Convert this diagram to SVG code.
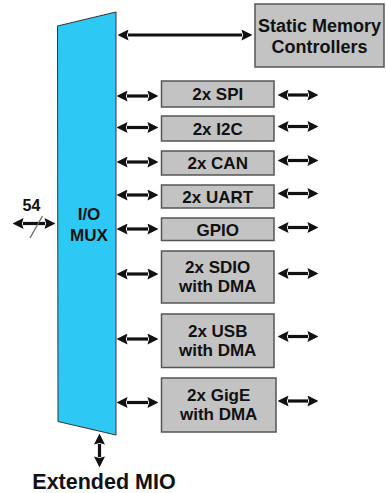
<svg xmlns="http://www.w3.org/2000/svg" width="386" height="493" viewBox="0 0 386 493">
<style>
.box{fill:#c3c3c3;stroke:#555;stroke-width:1.5}
.lbl{font-family:"Liberation Sans",Arial,sans-serif;font-weight:bold;font-size:17px;fill:#111;text-anchor:middle}
.big{font-size:18px}
.ar{stroke:#111;stroke-width:3.2;fill:none;marker-start:url(#ah);marker-end:url(#ah)}
</style>
<defs>
<marker id="ah" markerUnits="userSpaceOnUse" markerWidth="11" markerHeight="11" viewBox="0 0 10 10" refX="0.5" refY="5" orient="auto-start-reverse">
<path d="M0,0 L10,5 L0,10 L1.5,5 z" fill="#111"/>
</marker>
</defs>
<rect width="386" height="493" fill="#fff"/>
<g id="mux">
<polygon points="57.5,26 116,12 116,435 58,421.5" fill="#2ec8f5" stroke="#333" stroke-width="1"/>
<text class="lbl" x="89" y="220">I/O</text>
<text class="lbl" x="89" y="240.5">MUX</text>
</g>
<g id="static-memory">
<rect class="box" x="255" y="4" width="129" height="63"/>
<text class="lbl big" x="319.5" y="31.5">Static Memory</text>
<text class="lbl big" x="319.5" y="53">Controllers</text>
</g>
<g id="spi"><rect class="box" x="161.5" y="81" width="112.5" height="26"/><text class="lbl" x="217.7" y="100">2x SPI</text></g>
<g id="i2c"><rect class="box" x="161.5" y="116" width="112.5" height="25"/><text class="lbl" x="217.7" y="134.5">2x I2C</text></g>
<g id="can"><rect class="box" x="161.5" y="151" width="112.5" height="24"/><text class="lbl" x="217.7" y="169">2x CAN</text></g>
<g id="uart"><rect class="box" x="161.5" y="185" width="112.5" height="23"/><text class="lbl" x="217.7" y="202.5">2x UART</text></g>
<g id="gpio"><rect class="box" x="161.5" y="218" width="112.5" height="22.5"/><text class="lbl" x="217.7" y="235.5">GPIO</text></g>
<g id="sdio"><rect class="box" x="161.5" y="251" width="112.5" height="52"/><text class="lbl" x="217.7" y="273.3">2x SDIO</text><text class="lbl" x="217.7" y="291.7">with DMA</text></g>
<g id="usb"><rect class="box" x="161.5" y="314" width="112.5" height="53.5"/><text class="lbl" x="217.7" y="337">2x USB</text><text class="lbl" x="217.7" y="355.5">with DMA</text></g>
<g id="gige"><rect class="box" x="161.5" y="378" width="114.5" height="54"/><text class="lbl" x="218.7" y="401">2x GigE</text><text class="lbl" x="218.7" y="419.5">with DMA</text></g>
<g id="ext-label"><text class="lbl" x="104" y="489" style="font-size:21.5px">Extended MIO</text></g>
<g id="pins-label"><text class="lbl" x="31.5" y="210.5" style="font-size:16px">54</text></g>
<g id="connectors">
<line class="ar" x1="128" y1="35" x2="242" y2="35"/>
<line class="ar" x1="127" y1="96" x2="148" y2="96"/>
<line class="ar" x1="127" y1="127.5" x2="148" y2="127.5"/>
<line class="ar" x1="127" y1="162" x2="148" y2="162"/>
<line class="ar" x1="127" y1="195" x2="148" y2="195"/>
<line class="ar" x1="127" y1="229" x2="148" y2="229"/>
<line class="ar" x1="127" y1="274" x2="148" y2="274"/>
<line class="ar" x1="127" y1="339" x2="148" y2="339"/>
<line class="ar" x1="127" y1="402.5" x2="148" y2="402.5"/>
<line class="ar" x1="288" y1="95" x2="308" y2="95"/>
<line class="ar" x1="288" y1="126.5" x2="308" y2="126.5"/>
<line class="ar" x1="288" y1="160.5" x2="308" y2="160.5"/>
<line class="ar" x1="288" y1="193.5" x2="308" y2="193.5"/>
<line class="ar" x1="288" y1="227.5" x2="308" y2="227.5"/>
<line class="ar" x1="288" y1="273.5" x2="308" y2="273.5"/>
<line class="ar" x1="288" y1="336.5" x2="308" y2="336.5"/>
<line class="ar" x1="288" y1="401" x2="308" y2="401"/>
<line class="ar" x1="23" y1="223.5" x2="45" y2="223.5"/>
<line x1="30" y1="238" x2="42.5" y2="216" stroke="#666" stroke-width="1.3"/>
<line class="ar" x1="99.5" y1="444" x2="99.5" y2="457"/>
</g>
</svg>
